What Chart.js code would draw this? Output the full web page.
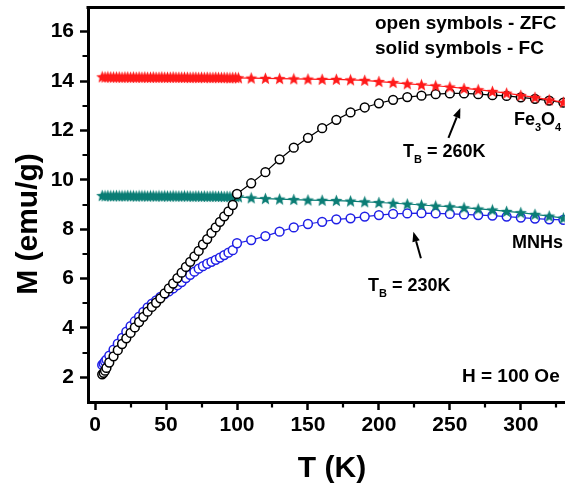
<!DOCTYPE html>
<html>
<head>
<meta charset="utf-8">
<script src="https://cdn.jsdelivr.net/npm/chart.js@4/dist/chart.umd.min.js"></script>
<style>
html,body{margin:0;padding:0;background:#fff;}
#c{display:block;}
</style>
</head>
<body>
<canvas id="c" width="571" height="483"></canvas>
<script>
// ---------------- DATA ----------------
// Temperatures (K) of the ZFC runs
const tZFC = [5,6,7,8,10,13,16,19,22,25,28,31,34,37,40,43,46,49,52,55,58,61,64,67,70,73,76,79,82,85,88,91,94,97,
  100,110,120,130,140,150,160,170,180,190,200,210,220,230,240,250,260,270,280,290,300,310,320,330];
// ZFC magnetisation of Fe3O4 (open black circles)
const zfcFe3O4 = [2.12,2.18,2.27,2.38,2.6,2.85,3.1,3.35,3.58,3.8,4.02,4.24,4.45,4.66,4.85,5.02,5.2,5.4,5.6,5.8,6.02,6.24,6.47,6.68,6.9,7.12,7.38,7.6,7.85,8.07,8.3,8.52,8.72,8.98,
  9.43,9.86,10.31,10.83,11.3,11.7,12.09,12.43,12.73,12.93,13.1,13.24,13.35,13.41,13.47,13.5,13.5,13.47,13.43,13.4,13.34,13.28,13.21,13.13];
// ZFC magnetisation of MNHs (open blue circles)
const zfcMNH = [2.5,2.56,2.64,2.72,2.88,3.12,3.36,3.6,3.85,4.07,4.27,4.46,4.65,4.83,4.98,5.12,5.26,5.37,5.48,5.6,5.73,5.86,6.02,6.15,6.28,6.4,6.5,6.6,6.68,6.76,6.85,6.95,7.05,7.15,
  7.43,7.56,7.72,7.9,8.07,8.21,8.3,8.4,8.44,8.51,8.57,8.62,8.64,8.65,8.64,8.62,8.6,8.57,8.55,8.51,8.47,8.43,8.4,8.38];

// Temperatures (K) of the FC runs
const tFC = [5,7,9,11,13,15,17,19,21,23, 25,27,29,31,33,35,37,39,41,43, 45,47,49,51,53,55,57,59,61,63,
  65,67,69,71,73,75,77,79,81,83, 85,87,89,91,93,95,97,99,101,
  110,120,130,140,150,160,170,180,190,200,210,220,230,240,250,260,270,280,290,300,310,320,330];
// FC magnetisation of Fe3O4 (solid red stars)
const fcFe3O4 = [14.17,14.16,14.17,14.16,14.16,14.16,14.16,14.15,14.16,14.16,
  14.15,14.16,14.15,14.16,14.15,14.16,14.15,14.15,14.16,14.15,
  14.15,14.16,14.15,14.15,14.15,14.16,14.15,14.15,14.15,14.15,
  14.15,14.14,14.15,14.15,14.14,14.15,14.14,14.15,14.14,14.14,
  14.15,14.14,14.14,14.14,14.14,14.13,14.14,14.14,14.13,
  14.12,14.11,14.1,14.09,14.08,14.07,14.07,14.05,14.03,13.98,13.94,13.89,13.85,13.81,13.76,13.7,13.65,13.58,13.51,13.42,13.34,13.24,13.14];
// FC magnetisation of MNHs (solid teal stars)
const fcMNH = [9.36,9.35,9.36,9.35,9.35,9.36,9.35,9.35,9.35,9.36,
  9.35,9.35,9.34,9.35,9.35,9.35,9.34,9.35,9.35,9.34,
  9.35,9.34,9.35,9.34,9.34,9.35,9.34,9.34,9.34,9.35,
  9.34,9.34,9.33,9.34,9.34,9.33,9.34,9.33,9.33,9.34,
  9.33,9.33,9.33,9.32,9.33,9.32,9.32,9.32,9.31,
  9.27,9.24,9.22,9.2,9.18,9.17,9.16,9.14,9.11,9.08,9.05,9.02,8.98,8.94,8.91,8.87,8.82,8.78,8.72,8.67,8.6,8.53,8.45];

// Axis ticks
const xTickLabels = [0,50,100,150,200,250,300];
const xMinorTicks = [25,75,125,175,225,275,325];
const yTickLabels = [2,4,6,8,10,12,14,16];
const yMinorTicks = [3,5,7,9,11,13,15];

// ---------------- STYLE ----------------
const FONT = "'Liberation Sans', Arial, Helvetica, sans-serif";
const RED = '#ff1a1a', TEAL = '#0b7d75', BLUE = '#2020e6', BLACK = '#000000';

function makeStar(color, size) {
  const c = document.createElement('canvas');
  c.width = size; c.height = size;
  const g = c.getContext('2d');
  const cx = size / 2, cy = size / 2 + 0.5, R = size / 2 - 0.1, r = R * 0.44;
  g.beginPath();
  for (let i = 0; i < 10; i++) {
    const a = -Math.PI / 2 + i * Math.PI / 5;
    const rr = (i % 2) ? r : R;
    g.lineTo(cx + rr * Math.cos(a), cy + rr * Math.sin(a));
  }
  g.closePath();
  g.fillStyle = color;
  g.fill();
  return c;
}

const pts = (xs, ys) => xs.map((x, i) => ({x: x, y: ys[i]}));

const circleDs = (label, xs, ys, color, order) => ({
  label, data: pts(xs, ys), order,
  borderColor: color, borderWidth: 1.2,
  pointStyle: 'circle', pointRadius: 4.4, pointBorderWidth: 1.5,
  pointBorderColor: color, pointBackgroundColor: '#ffffff',
  showLine: true, tension: 0, fill: false
});
const starDs = (label, xs, ys, color, order) => ({
  label, data: pts(xs, ys), order,
  borderColor: color, borderWidth: 1.2,
  pointStyle: makeStar(color, 13), pointRadius: 5,
  pointBorderColor: color, pointBackgroundColor: color,
  showLine: true, tension: 0, fill: false
});

// ---------------- DECORATION PLUGIN ----------------
function drawRich(ctx, x, y, parts) {
  let cx = x;
  for (const p of parts) {
    ctx.font = 'bold ' + p.size + 'px ' + FONT;
    ctx.fillText(p.t, cx, y + (p.dy || 0));
    cx += ctx.measureText(p.t).width;
  }
}
function arrow(ctx, x0, y0, x1, y1) {
  const ang = Math.atan2(y1 - y0, x1 - x0);
  const hl = 10, hw = 3.8;
  const bx = x1 - hl * Math.cos(ang), by = y1 - hl * Math.sin(ang);
  ctx.beginPath();
  ctx.moveTo(x0, y0); ctx.lineTo(bx, by);
  ctx.lineWidth = 2; ctx.strokeStyle = '#000'; ctx.stroke();
  ctx.beginPath();
  ctx.moveTo(x1, y1);
  ctx.lineTo(bx + hw * Math.sin(ang), by - hw * Math.cos(ang));
  ctx.lineTo(bx - hw * Math.sin(ang), by + hw * Math.cos(ang));
  ctx.closePath(); ctx.fillStyle = '#000'; ctx.fill();
}

const deco = {
  id: 'deco',
  afterDraw(chart) {
    const ctx = chart.ctx, xs = chart.scales.x, ys = chart.scales.y, a = chart.chartArea;
    ctx.save();
    // top frame line
    ctx.strokeStyle = '#000'; ctx.lineWidth = 3;
    ctx.beginPath(); ctx.moveTo(a.left - 1.5, a.top + 0.5); ctx.lineTo(a.right, a.top + 0.5); ctx.stroke();
    // minor ticks
    ctx.lineWidth = 2.2;
    ctx.beginPath();
    for (const v of xMinorTicks) {
      const px = Math.round(xs.getPixelForValue(v));
      ctx.moveTo(px, a.bottom + 1); ctx.lineTo(px, a.bottom + 5.5);
    }
    for (const v of yMinorTicks) {
      const py = Math.round(ys.getPixelForValue(v));
      ctx.moveTo(a.left - 1, py); ctx.lineTo(a.left - 5.5, py);
    }
    ctx.stroke();

    ctx.fillStyle = '#000';
    ctx.textAlign = 'left'; ctx.textBaseline = 'alphabetic';
    // legend-like notes
    drawRich(ctx, 375, 29, [{t: 'open symbols - ZFC', size: 19}]);
    drawRich(ctx, 375, 54, [{t: 'solid symbols - FC', size: 19}]);
    // sample labels
    drawRich(ctx, 514, 125, [{t: 'Fe', size: 18}, {t: '3', size: 11, dy: 6}, {t: 'O', size: 18}, {t: '4', size: 11, dy: 6}]);
    drawRich(ctx, 512, 248, [{t: 'MNHs', size: 18}]);
    drawRich(ctx, 403, 157, [{t: 'T', size: 18}, {t: 'B', size: 11, dy: 6}, {t: ' = 260K', size: 18}]);
    drawRich(ctx, 368, 291, [{t: 'T', size: 18}, {t: 'B', size: 11, dy: 6}, {t: ' = 230K', size: 18}]);
    drawRich(ctx, 462, 382, [{t: 'H = 100 Oe', size: 19}]);
    // arrows (anchored to data coordinates)
    arrow(ctx, xs.getPixelForValue(249), ys.getPixelForValue(11.7), xs.getPixelForValue(257.4), ys.getPixelForValue(12.91));
    arrow(ctx, xs.getPixelForValue(229.6), ys.getPixelForValue(6.82), xs.getPixelForValue(224.3), ys.getPixelForValue(7.9));

    // axis titles
    ctx.font = 'bold 30px ' + FONT;
    ctx.textAlign = 'center'; ctx.textBaseline = 'alphabetic';
    ctx.fillText('T (K)', 332, 477);
    ctx.save();
    ctx.translate(29, 224); ctx.rotate(-Math.PI / 2);
    ctx.textBaseline = 'middle';
    ctx.fillText('M (emu/g)', 0, 0);
    ctx.restore();
    ctx.restore();
  }
};

// ---------------- CHART ----------------
new Chart(document.getElementById('c'), {
  type: 'line',
  data: {
    datasets: [
      starDs('Fe3O4 FC', tFC, fcFe3O4, RED, 1),
      circleDs('Fe3O4 ZFC', tZFC, zfcFe3O4, BLACK, 2),
      starDs('MNHs FC', tFC, fcMNH, TEAL, 3),
      circleDs('MNHs ZFC', tZFC, zfcMNH, BLUE, 4)
    ]
  },
  options: {
    responsive: false,
    animation: false,
    devicePixelRatio: 1,
    layout: {padding: {top: 7, right: 0, left: 0, bottom: 0}},
    plugins: {legend: {display: false}, tooltip: {enabled: false}},
    scales: {
      x: {
        type: 'linear', min: -5, max: 331,
        afterBuildTicks: s => { s.ticks = xTickLabels.map(v => ({value: v})); },
        afterFit: s => { s.height = 81; s.paddingLeft = 0; s.paddingRight = 0; },
        ticks: {color: '#000', font: {family: FONT, size: 21, weight: 'bold'}, padding: 3, maxRotation: 0, autoSkip: false},
        grid: {display: true, drawOnChartArea: false, drawTicks: true, tickLength: 8, tickWidth: 2.5, tickColor: '#000', color: '#000'},
        border: {display: true, color: '#000', width: 3}
      },
      y: {
        type: 'linear', min: 1, max: 17,
        afterBuildTicks: s => { s.ticks = yTickLabels.map(v => ({value: v})); },
        afterFit: s => { s.width = 88; s.paddingTop = 0; s.paddingBottom = 0; },
        ticks: {color: '#000', font: {family: FONT, size: 21, weight: 'bold'}, padding: 6, autoSkip: false},
        grid: {display: true, drawOnChartArea: false, drawTicks: true, tickLength: 8, tickWidth: 2.5, tickColor: '#000', color: '#000'},
        border: {display: true, color: '#000', width: 3}
      }
    }
  },
  plugins: [deco]
});
</script>
</body>
</html>
